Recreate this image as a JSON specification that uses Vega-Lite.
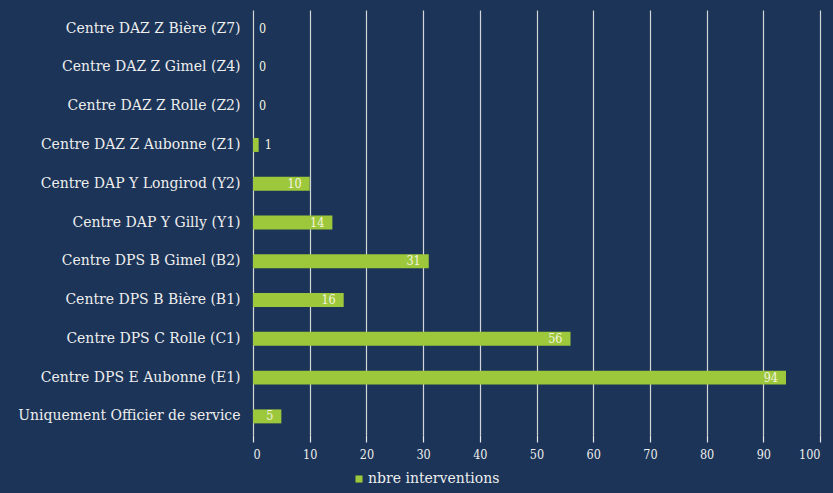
{
  "$schema": "https://vega.github.io/schema/vega-lite/v6.json",
  "width": 567,
  "height": 425,
  "autosize": {"type": "none"},
  "padding": {"left": 253, "top": 10, "right": 13, "bottom": 58},
  "background": "#1b3457",
  "config": {
    "view": {"stroke": null},
    "font": "DejaVu Serif",
    "text": {"font": "DejaVu Serif"}
  },
  "data": {
    "values": [
      {"centre": "Centre DAZ Z Bière (Z7)", "n": 0},
      {"centre": "Centre DAZ Z Gimel (Z4)", "n": 0},
      {"centre": "Centre DAZ Z Rolle (Z2)", "n": 0},
      {"centre": "Centre DAZ Z Aubonne (Z1)", "n": 1},
      {"centre": "Centre DAP Y Longirod (Y2)", "n": 10},
      {"centre": "Centre DAP Y Gilly (Y1)", "n": 14},
      {"centre": "Centre DPS B Gimel (B2)", "n": 31},
      {"centre": "Centre DPS B Bière (B1)", "n": 16},
      {"centre": "Centre DPS C Rolle (C1)", "n": 56},
      {"centre": "Centre DPS E Aubonne (E1)", "n": 94},
      {"centre": "Uniquement Officier de service", "n": 5}
    ]
  },
  "encoding": {
    "y": {
      "field": "centre",
      "type": "nominal",
      "sort": null,
      "scale": {"paddingInner": 0.64, "paddingOuter": 0.3},
      "axis": {
        "title": null,
        "ticks": false,
        "domain": false,
        "labelColor": "#eeeeee",
        "labelFontSize": 14,
        "labelFont": "DejaVu Serif",
        "labelPadding": 13,
        "labelLimit": 300
      }
    },
    "x": {
      "field": "n",
      "type": "quantitative",
      "scale": {"domain": [0, 100], "nice": false},
      "axis": {
        "title": null,
        "tickCount": 11,
        "labelOverlap": false,
        "grid": true,
        "gridColor": "#e8e8e8",
        "gridWidth": 1.2,
        "gridOpacity": 0.9,
        "domain": false,
        "tickColor": "#e8e8e8",
        "tickSize": 7,
        "tickWidth": 1.2,
        "labelColor": "#eeeeee",
        "labelFontSize": 12.5,
        "labelFont": "DejaVu Serif Condensed",
        "labelPadding": 6
      }
    }
  },
  "layer": [
    {
      "mark": {"type": "bar", "color": "#9dc83b"},
      "encoding": {
        "color": {
          "datum": "nbre interventions",
          "scale": {"range": ["#9dc83b"]},
          "legend": {
            "title": null,
            "orient": "none",
            "legendX": 99,
            "legendY": 462,
            "symbolType": "square",
            "symbolSize": 50,
            "labelColor": "#eeeeee",
            "labelFontSize": 14,
            "labelFont": "DejaVu Serif",
            "labelOffset": 2
          }
        }
      }
    },
    {
      "transform": [{"filter": "datum.n >= 5"}],
      "mark": {"type": "text", "align": "right", "dx": -8, "color": "#f4f4e0", "fontSize": 12.5, "font": "DejaVu Serif Condensed", "baseline": "middle"},
      "encoding": {"text": {"field": "n", "type": "quantitative"}}
    },
    {
      "transform": [{"filter": "datum.n < 5"}],
      "mark": {"type": "text", "align": "left", "dx": 6, "color": "#f4f4e0", "fontSize": 12.5, "font": "DejaVu Serif Condensed", "baseline": "middle"},
      "encoding": {"text": {"field": "n", "type": "quantitative"}}
    }
  ]
}
